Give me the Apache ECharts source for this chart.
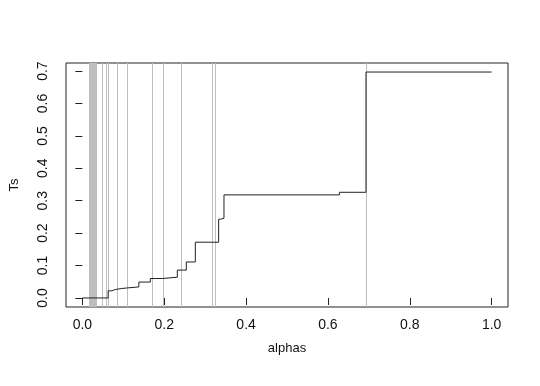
<!DOCTYPE html>
<html>
<head>
<meta charset="utf-8">
<script src="https://cdn.jsdelivr.net/npm/echarts@6/dist/echarts.min.js"></script>
<style>html,body{margin:0;padding:0;background:#fff}#c{width:540px;height:386px}</style>
</head>
<body>
<div id="c"></div>
<script>
// Step function (alphas, Ts) — R type="s"
var alphas = [0, 0.063, 0.072, 0.080, 0.095, 0.110, 0.138, 0.166, 0.196, 0.232, 0.254, 0.276, 0.333, 0.338, 0.346, 0.628, 0.693, 1.0];
var Ts     = [0, 0.022, 0.026, 0.029, 0.031, 0.034, 0.049, 0.060, 0.064, 0.086, 0.111, 0.172, 0.243, 0.246, 0.318, 0.326, 0.697, 0.697];
// vertical gray reference lines (abline v=...)
var vlines = [0.016, 0.0175, 0.019, 0.0205, 0.022, 0.0235, 0.025, 0.0265, 0.028, 0.0295, 0.031, 0.0325, 0.034,
              0.049, 0.057, 0.062, 0.084, 0.110, 0.170, 0.197, 0.241, 0.316, 0.324, 0.693];
var xTicks = [0, 0.2, 0.4, 0.6, 0.8, 1.0];
var yTicks = [0, 0.1, 0.2, 0.3, 0.4, 0.5, 0.6, 0.7];
var xName = 'alphas', yName = 'Ts';

var xMin = -0.04, xMax = 1.04, yMin = -0.0279, yMax = 0.7249;
var font = 'Liberation Sans, Arial, Helvetica, sans-serif';
var chart = echarts.init(document.getElementById('c'), null, {renderer: 'canvas'});
chart.setOption({
  animation: false,
  backgroundColor: '#fff',
  grid: {left: 63, right: 32, top: 63, bottom: 79, show: true, borderColor: '#222', borderWidth: 1, backgroundColor: 'transparent'},
  xAxis: {
    type: 'value', min: xMin, max: xMax,
    name: xName, nameLocation: 'middle', nameGap: 35,
    nameTextStyle: {fontFamily: font, fontSize: 13, color: '#111'},
    axisLine: {show: false},
    splitLine: {show: false},
    axisTick: {show: true, length: 7, inside: false, customValues: xTicks, lineStyle: {color: '#222'}},
    axisLabel: {customValues: xTicks, margin: 11, fontFamily: font, fontSize: 14, color: '#111',
      formatter: function (v) { return v.toFixed(1); }}
  },
  yAxis: {
    type: 'value', min: yMin, max: yMax,
    name: yName, nameLocation: 'middle', nameGap: 45, nameRotate: 90,
    nameTextStyle: {fontFamily: font, fontSize: 13, color: '#111'},
    axisLine: {show: false},
    splitLine: {show: false},
    axisTick: {show: true, length: 7, customValues: yTicks, lineStyle: {color: '#222'}},
    axisLabel: {customValues: yTicks, rotate: 90, margin: 16, fontFamily: font, fontSize: 14, color: '#111',
      formatter: function (v) { return v.toFixed(1); }}
  },
  series: [
    {
      type: 'custom', silent: true, z: 1, clip: true,
      data: vlines.map(function (v) { return [v]; }),
      encode: {x: 0},
      renderItem: function (params, api) {
        var p1 = api.coord([api.value(0), yMin]);
        var p2 = api.coord([api.value(0), yMax]);
        var x = Math.round(p1[0]) + 0.5;
        return {
          type: 'line',
          shape: {x1: x, y1: p1[1], x2: x, y2: p2[1]},
          style: {stroke: '#bebebe', lineWidth: 1}
        };
      }
    },
    {
      type: 'line', step: 'end', z: 3, symbol: 'none',
      lineStyle: {color: '#222', width: 1},
      data: alphas.map(function (a, i) { return [a, Ts[i]]; })
    }
  ]
});
</script>
</body>
</html>
